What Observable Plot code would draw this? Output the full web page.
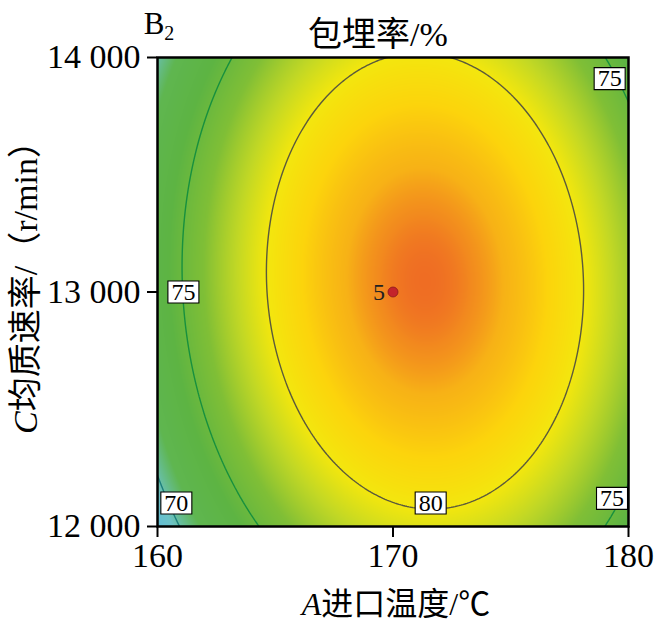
<!DOCTYPE html>
<html>
<head>
<meta charset="utf-8">
<script src="https://cdn.jsdelivr.net/npm/d3@7"></script>
<script src="https://cdn.jsdelivr.net/npm/@observablehq/plot@0.6"></script>
<style>
  body { margin: 0; background: #fff; }
</style>
</head>
<body>
<div id="chart"></div>
<script>
// Fitted response surface for encapsulation efficiency (%), coded factors:
//   a = (A − 170) / 10   (inlet temperature, ℃)
//   c = (C − 13000) / 1000 (homogenising speed, r/min)
const terms = ["b0", "a", "c", "ac", "a²", "c²"];
const coefficients = [83.55, 2.25, 0.43, -0.46, -8.2, -3.93];

const xTicks = [160, 170, 180];
const yTicks = [12000, 13000, 14000];

const contourLevels = [70, 75, 80];
const contourColors = ["#1d7f7c", "#17903e", "#5b5a3c"];

// contour labels
const labelA = [161.1, 179.2, 179.3, 160.8, 171.6];
const labelC = [13000, 13910, 12120, 12100, 12100];
const labelText = ["75", "75", "75", "70", "80"];

// design centre point and its number of replicates
const centerA = [170];
const centerC = [13000];
const centerRuns = ["5"];

// colour ramp for the response
const rampValues = [67, 69.5, 71.5, 74, 76.5, 78.5, 80, 81.5, 82.8, 83.4, 83.8];
const rampColors = ["#5ab8e6", "#6cc2c6", "#5fb650", "#5db443", "#80bf36", "#c2d825",
                    "#f3e70e", "#fcd40c", "#f7b216", "#f28a1e", "#ee6525"];

function encapsulation(A, C) {
  const a = (A - 170) / 10, c = (C - 13000) / 1000;
  const [b0, b1, b2, b12, b11, b22] = coefficients;
  return b0 + b1 * a + b2 * c + b12 * a * c + b11 * a * a + b22 * c * c;
}

const labels = labelText.map((t, i) => ({A: labelA[i], C: labelC[i], t}));
const centers = centerA.map((a, i) => ({A: a, C: centerC[i], n: centerRuns[i]}));

const serif = "'Liberation Serif','Times New Roman','Noto Sans CJK SC',serif";
const labelBox = {draw(ctx) { ctx.rect(-15.5, -11, 31, 22); }};
const spaced = d => d3.format(",")(d).replace(/,/g, " ");

const chart = Plot.plot({
  width: 660,
  height: 626,
  marginLeft: 157,
  marginRight: 32,
  marginTop: 57,
  marginBottom: 100,
  style: {fontFamily: serif, background: "white", color: "black"},
  x: {domain: [160, 180], axis: null},
  y: {domain: [12000, 14000], axis: null},
  color: {type: "linear", domain: rampValues, range: rampColors, clamp: true},
  marks: [
    Plot.raster({x1: 160, x2: 180, y1: 12000, y2: 14000, fill: encapsulation, pixelSize: 1}),
    ...contourLevels.map((v, i) => Plot.contour({
      x1: 158, x2: 182, y1: 11800, y2: 14200,
      value: encapsulation, thresholds: [v],
      fill: "none", stroke: contourColors[i], strokeWidth: 1.4, clip: true
    })),
    Plot.dot(labels, {x: "A", y: "C", symbol: labelBox, fill: "white", stroke: "black", strokeWidth: 1.1}),
    Plot.text(labels, {x: "A", y: "C", text: "t", fontSize: 24, fill: "black"}),
    Plot.dot(centers, {x: "A", y: "C", r: 5, fill: "#c4242b", stroke: "#8a1a1a", strokeWidth: 0.8}),
    Plot.text(centers, {x: "A", y: "C", text: "n", dx: -14, fontSize: 24, fill: "#222"}),
    Plot.frame({stroke: "black", strokeWidth: 2.5}),
    Plot.axisX(xTicks, {tickSize: 11, tickPadding: 5, fontSize: 34, strokeWidth: 2, label: null}),
    Plot.axisY(yTicks, {tickSize: 10, tickPadding: 7, fontSize: 34, strokeWidth: 2, label: null, tickFormat: spaced})
  ]
});

document.getElementById("chart").appendChild(chart);

// titles and axis names
const svg = d3.select(chart);

svg.append("text")
  .attr("x", 378).attr("y", 46)
  .attr("text-anchor", "middle")
  .attr("font-size", 34)
  .attr("font-family", serif)
  .text("包埋率/%");

const tag = svg.append("text")
  .attr("x", 159).attr("y", 34)
  .attr("font-size", 31)
  .attr("font-family", serif);
tag.append("tspan").text("B");
tag.append("tspan").attr("font-size", 20).attr("dy", 6).text("2");

const xName = svg.append("text")
  .attr("x", 396).attr("y", 615)
  .attr("text-anchor", "middle")
  .attr("font-size", 32)
  .attr("font-family", serif);
xName.append("tspan").attr("font-style", "italic").text("A");
xName.append("tspan").text("进口温度/℃");

const yName = svg.append("text")
  .attr("transform", "translate(37,279) rotate(-90)")
  .attr("text-anchor", "middle")
  .attr("font-size", 34)
  .attr("font-family", serif);
yName.append("tspan").attr("font-style", "italic").text("C");
yName.append("tspan").text("均质速率/（r/min）");
</script>
</body>
</html>
